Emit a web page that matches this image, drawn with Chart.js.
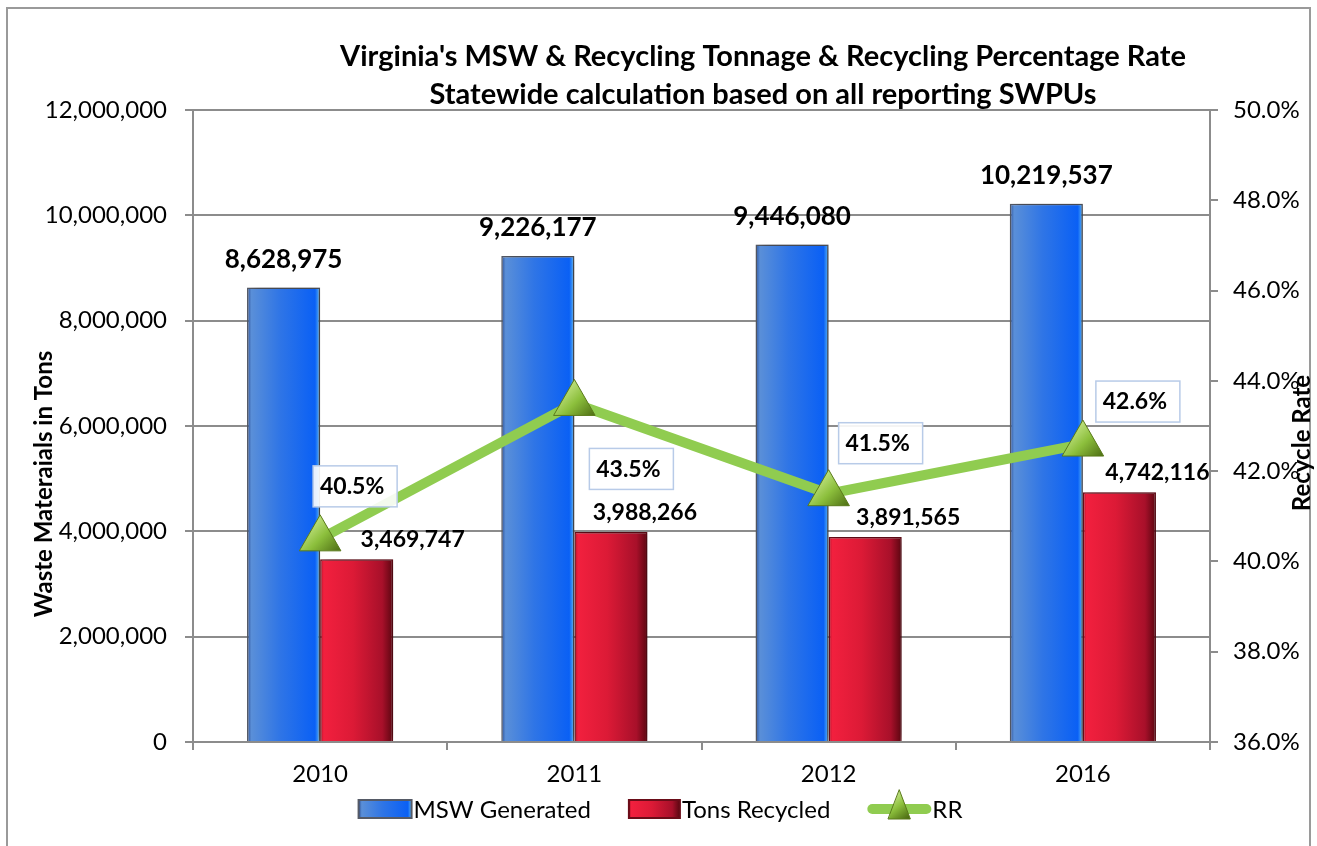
<!DOCTYPE html>
<html>
<head>
<meta charset="utf-8">
<title>Virginia's MSW & Recycling Tonnage</title>
<script src="https://cdn.jsdelivr.net/npm/chart.js@4.4.1/dist/chart.umd.min.js"></script>
<style>
  html, body { margin: 0; padding: 0; background: #fff; }
  #wrap { position: relative; width: 1317px; height: 846px; }
</style>
</head>
<body>
<div id="wrap"><canvas id="chart"></canvas></div>
<script>
// chart values
const years = ["2010", "2011", "2012", "2016"];
const mswGenerated = [8628975, 9226177, 9446080, 10219537];
const tonsRecycled = [3469747, 3988266, 3891565, 4742116];
const recycleRate = [40.5, 43.5, 41.5, 42.6];
const tonsTicks = [0, 2000000, 4000000, 6000000, 8000000, 10000000, 12000000];
const rateTicks = [36, 38, 40, 42, 44, 46, 48, 50];

const FONT = "Lato, 'Open Sans', sans-serif";
const catPct = 0.575;

// label nudges (like the hand-moved labels in the original)
const redLabelDx = [56, 34, 43, 38];
const rateBoxDx = [35, 57, 52, 55];
const rateBoxDy = [-53, 65, -51, -43];

const blueStops = [[0, '#2c4f95'], [0.06, '#5a8fd8'], [0.45, '#2f75e6'], [0.93, '#0a60f5'], [1, '#5ab8f5']];
const redStops = [[0, '#b01028'], [0.05, '#f2203e'], [0.45, '#dc1a36'], [0.85, '#a8102a'], [1, '#5a0610']];

function hGradient(ctx, x0, x1, stops) {
    let g = ctx.createLinearGradient(x0, 0, x1, 0);
    stops.forEach(s => g.addColorStop(s[0], s[1]));
    return g;
}

function barFill(stops) {
    return function (c) {
        const chart = c.chart;
        if (c.dataIndex === undefined || !chart.chartArea) return stops[2][1];
        const xs = chart.scales.x;
        const cx = xs.getPixelForValue(c.dataIndex);
        const w = xs.width / years.length * catPct / 2;
        const x0 = c.datasetIndex === 0 ? cx - w : cx;
        return hGradient(chart.ctx, x0, x0 + w, stops);
    };
}

function pointFill(c) {
    const chart = c.chart;
    if (c.dataIndex === undefined || !chart.chartArea) return '#8cbf3c';
    const x = chart.scales.x.getPixelForValue(c.dataIndex);
    const y = chart.scales.y1.getPixelForValue(recycleRate[c.dataIndex]);
    let g = chart.ctx.createLinearGradient(x - 18, y - 18, x + 18, y + 18);
    g.addColorStop(0, '#d8f2a0');
    g.addColorStop(0.5, '#8cbf3c');
    g.addColorStop(1, '#46640f');
    return g;
}

const fmt = v => v.toLocaleString('en-US');

const framePlugin = {
    id: 'frame',
    beforeDraw(chart) {
        const ctx = chart.ctx;
        ctx.save();
        ctx.fillStyle = '#fff';
        ctx.fillRect(0, 0, chart.width, chart.height);
        ctx.strokeStyle = '#9a9a9a';
        ctx.lineWidth = 2;
        ctx.strokeRect(7, 8, chart.width - 14, chart.height + 10);
        ctx.restore();
    }
};

const shadowPlugin = {
    id: 'barShadow',
    beforeDatasetDraw(chart, args) {
        if (args.meta.type !== 'bar') return;
        const ctx = chart.ctx;
        ctx.save();
        ctx.shadowColor = 'rgba(0,0,0,0.35)';
        ctx.shadowBlur = 9;
        ctx.shadowOffsetX = 4;
        ctx.shadowOffsetY = -1;
    },
    afterDatasetDraw(chart, args) {
        if (args.meta.type !== 'bar') return;
        chart.ctx.restore();
    }
};

const labelPlugin = {
    id: 'valueLabels',
    afterDatasetsDraw(chart) {
        const ctx = chart.ctx;
        ctx.save();
        ctx.fillStyle = '#000';
        ctx.textBaseline = 'alphabetic';
        ctx.textAlign = 'center';

        ctx.font = `bold 26px ${FONT}`;
        chart.getDatasetMeta(0).data.forEach((el, i) => {
            ctx.fillText(fmt(mswGenerated[i]), el.x, el.y - 20);
        });

        ctx.font = `bold 23px ${FONT}`;
        chart.getDatasetMeta(1).data.forEach((el, i) => {
            ctx.fillText(fmt(tonsRecycled[i]), el.x + redLabelDx[i], el.y - 12);
        });

        ctx.textBaseline = 'middle';
        chart.getDatasetMeta(2).data.forEach((el, i) => {
            const bx = el.x + rateBoxDx[i], by = el.y + rateBoxDy[i];
            ctx.fillStyle = 'rgba(255,255,255,0.9)';
            ctx.fillRect(bx - 42, by - 20, 84, 41);
            ctx.strokeStyle = '#b8cbe8';
            ctx.lineWidth = 1.5;
            ctx.strokeRect(bx - 42, by - 20, 84, 41);
            ctx.fillStyle = '#000';
            ctx.fillText(recycleRate[i].toFixed(1) + '%', bx - 3, by + 1);
        });
        ctx.restore();
    },
    afterDraw(chart) {
        const ctx = chart.ctx;
        ctx.save();
        ctx.fillStyle = '#000';
        ctx.textAlign = 'center';
        ctx.textBaseline = 'middle';

        // title
        ctx.font = `bold 29px ${FONT}`;
        ctx.fillText("Virginia's MSW & Recycling Tonnage & Recycling Percentage Rate", 763, 57);
        ctx.fillText("Statewide calculation based on all reporting SWPUs", 763, 95);

        // axis titles
        ctx.font = `bold 24px ${FONT}`;
        ctx.save();
        ctx.translate(44, 484);
        ctx.rotate(-Math.PI / 2);
        ctx.fillText("Waste Materaials in Tons", 0, 0);
        ctx.restore();
        ctx.save();
        ctx.translate(1302, 443);
        ctx.rotate(-Math.PI / 2);
        ctx.fillText("Recycle Rate", 0, 0);
        ctx.restore();

        // legend
        ctx.font = `24px ${FONT}`;
        ctx.textAlign = 'left';
        const items = [
            { text: 'MSW Generated', w: 53, kind: 'bar', stops: blueStops, border: '#555a66' },
            { text: 'Tons Recycled', w: 51, kind: 'bar', stops: redStops, border: '#6a0c18' },
            { text: 'RR', w: 62, kind: 'line' }
        ];
        const gap = 6, spacing = 34;
        let total = 0;
        items.forEach((it, i) => {
            it.tw = ctx.measureText(it.text).width;
            total += it.w + gap + it.tw + (i < items.length - 1 ? spacing : 0);
        });
        let x = chart.width / 2 - total / 2 + 4;
        const y = 809;
        items.forEach(it => {
            if (it.kind === 'bar') {
                ctx.fillStyle = hGradient(ctx, x, x + it.w, it.stops);
                ctx.fillRect(x, y - 9, it.w, 18);
                ctx.strokeStyle = it.border;
                ctx.lineWidth = 2;
                ctx.strokeRect(x, y - 9, it.w, 18);
            } else {
                ctx.strokeStyle = '#90cc50';
                ctx.lineWidth = 10;
                ctx.lineCap = 'round';
                ctx.beginPath();
                ctx.moveTo(x + 4, y);
                ctx.lineTo(x + it.w - 4, y);
                ctx.stroke();
                const cx = x + it.w / 2;
                let g = ctx.createLinearGradient(cx - 10, y - 16, cx + 10, y + 10);
                g.addColorStop(0, '#d8f2a0');
                g.addColorStop(0.5, '#8cbf3c');
                g.addColorStop(1, '#46640f');
                ctx.fillStyle = g;
                ctx.beginPath();
                ctx.moveTo(cx, y - 19);
                ctx.lineTo(cx + 11, y + 10);
                ctx.lineTo(cx - 11, y + 10);
                ctx.closePath();
                ctx.fill();
                ctx.strokeStyle = '#5a7a1a';
                ctx.lineWidth = 1;
                ctx.stroke();
            }
            ctx.fillStyle = '#000';
            ctx.fillText(it.text, x + it.w + gap - 4, y + 1);
            x += it.w + gap + it.tw + spacing;
        });
        ctx.restore();
    }
};

const gridColor = '#8c8c8c';

const data = {
    labels: years,
    datasets: [{
            type: 'bar',
            label: 'MSW Generated',
            data: mswGenerated,
            yAxisID: 'y',
            backgroundColor: barFill(blueStops),
            borderColor: '#555a66',
            borderWidth: 1.5,
            categoryPercentage: catPct,
            barPercentage: 1.0,
            order: 1
        }, {
            type: 'bar',
            label: 'Tons Recycled',
            data: tonsRecycled,
            yAxisID: 'y',
            backgroundColor: barFill(redStops),
            borderColor: '#6a0c18',
            borderWidth: 1.5,
            categoryPercentage: catPct,
            barPercentage: 1.0,
            order: 1
        }, {
            type: 'line',
            label: 'RR',
            data: recycleRate,
            yAxisID: 'y1',
            borderColor: '#90cc50',
            borderWidth: 10,
            pointStyle: 'triangle',
            pointRadius: 24,
            pointBackgroundColor: pointFill,
            pointBorderColor: '#5a7a1a',
            pointBorderWidth: 1,
            tension: 0,
            order: 0
        }]
};

const config = {
    data: data,
    options: {
        responsive: true,
        maintainAspectRatio: false,
        animation: false,
        layout: { padding: { top: 110, left: 0, right: 0, bottom: 0 } },
        plugins: {
            legend: { display: false },
            title: { display: false },
            tooltip: { enabled: false }
        },
        scales: {
            x: {
                offset: true,
                grid: { display: true, drawOnChartArea: false, offset: true, tickLength: 8, color: gridColor, lineWidth: 2 },
                border: { color: gridColor, width: 2 },
                ticks: { color: '#000', font: { family: FONT, size: 24 }, padding: 10 },
                afterFit: s => { s.height = 104; }
            },
            y: {
                position: 'left',
                min: tonsTicks[0],
                max: tonsTicks[tonsTicks.length - 1],
                ticks: {
                    stepSize: tonsTicks[1] - tonsTicks[0],
                    color: '#000',
                    font: { family: FONT, size: 24 },
                    padding: 18,
                    callback: v => fmt(v)
                },
                grid: { color: gridColor, lineWidth: 2, tickLength: 8 },
                border: { color: gridColor, width: 2 },
                afterFit: s => { s.width = 193; }
            },
            y1: {
                position: 'right',
                min: rateTicks[0],
                max: rateTicks[rateTicks.length - 1],
                ticks: {
                    stepSize: rateTicks[1] - rateTicks[0],
                    color: '#000',
                    font: { family: FONT, size: 24 },
                    padding: 15,
                    callback: v => v.toFixed(1) + '%'
                },
                grid: { drawOnChartArea: false, color: gridColor, lineWidth: 2, tickLength: 8 },
                border: { color: gridColor, width: 2 },
                afterFit: s => { s.width = 107; }
            }
        }
    },
    plugins: [framePlugin, shadowPlugin, labelPlugin]
};

let ctx = document.getElementById('chart').getContext('2d');
new Chart(ctx, config);
</script>
</body>
</html>
